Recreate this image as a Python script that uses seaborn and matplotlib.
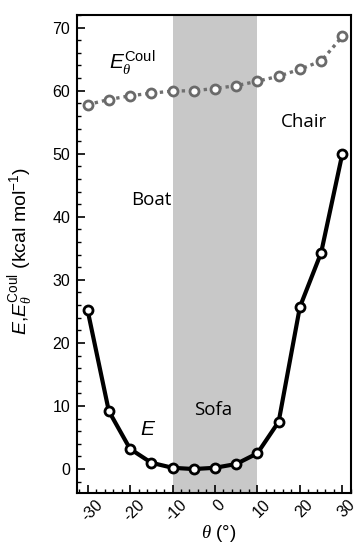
import matplotlib
matplotlib.use("Agg")
import matplotlib.pyplot as plt
import seaborn as sns
import pandas as pd
from matplotlib.ticker import MultipleLocator
from matplotlib.transforms import ScaledTranslation

theta = [-30, -25, -20, -15, -10, -5, 0, 5, 10, 15, 20, 25, 30]
E = [25.2, 9.2, 3.2, 1.0, 0.2, 0.0, 0.2, 0.8, 2.5, 7.5, 25.7, 34.3, 50.0]
E_coul = [57.8, 58.6, 59.2, 59.6, 59.95, 60.0, 60.35, 60.8, 61.5, 62.3, 63.4, 64.7, 68.6]
sofa_range = (-10, 10)
xticks = [-30, -20, -10, 0, 10, 20, 30]
yticks = [0, 10, 20, 30, 40, 50, 60, 70]

sns.set_theme(style="ticks")
plt.rcParams['font.family'] = ['Liberation Sans', 'DejaVu Sans']
plt.rcParams['mathtext.fontset'] = 'custom'
plt.rcParams['mathtext.it'] = 'Liberation Sans:italic'
plt.rcParams['mathtext.rm'] = 'Liberation Sans'
plt.rcParams['mathtext.cal'] = 'Liberation Serif:italic'
plt.rcParams['axes.unicode_minus'] = False
plt.rcParams['text.color'] = 'black'
plt.rcParams['axes.labelcolor'] = 'black'
plt.rcParams['xtick.color'] = 'black'
plt.rcParams['ytick.color'] = 'black'

df = pd.DataFrame({"theta": theta, "E": E, "Ecoul": E_coul})

fig = plt.figure(figsize=(3.58, 5.45), dpi=100)
ax = fig.add_axes([0.215, 0.0954, 0.765, 0.877])

ax.axvspan(sofa_range[0], sofa_range[1], color="#c8c8c8", lw=0, zorder=0)

sns.lineplot(data=df, x="theta", y="Ecoul", ax=ax, color="#707070", lw=2.4,
             linestyle=(0, (1, 1.2)), marker="o", markersize=6.5,
             markerfacecolor="white", markeredgecolor="#6a6a6a", markeredgewidth=2, zorder=3)
sns.lineplot(data=df, x="theta", y="E", ax=ax, color="black", lw=3,
             marker="o", markersize=6.5, markerfacecolor="white",
             markeredgecolor="black", markeredgewidth=2, zorder=4)

ax.set_xlim(-32.5, 32)
ax.set_ylim(-3.8, 72)
ax.set_xticks(xticks)
ax.set_yticks(yticks)
ax.xaxis.set_minor_locator(MultipleLocator(2))
ax.yaxis.set_minor_locator(MultipleLocator(2))
ax.tick_params(which="major", direction="in", length=6, width=1.2, labelsize=11.5)
ax.tick_params(which="minor", direction="in", length=3, width=1)
ax.tick_params(axis="x", pad=3)
ax.tick_params(axis="y", pad=5)
offset = ScaledTranslation(3 / 72, 0, fig.dpi_scale_trans)
for lbl in ax.get_xticklabels():
    lbl.set_rotation(45)
    lbl.set_ha("center")
    lbl.set_va("top")
    lbl.set_transform(lbl.get_transform() + offset)
for s in ax.spines.values():
    s.set_linewidth(1.5)
    s.set_color("black")

ax.set_xlabel(r"$\mathcal{\theta}$ (°)", fontsize=13.5)
ax.xaxis.set_label_coords(0.518, -0.062)
ax.set_ylabel(r"$E$,$E_\mathcal{\theta}^{\rm Coul}$ (kcal mol$^{-1}$)", fontsize=14)
ax.yaxis.set_label_coords(-0.155, 0.506)

ax.text(-25, 64.5, r"$E_\mathcal{\theta}^{\rm Coul}$", fontsize=15, ha="left", va="center")
ax.text(21, 55, "Chair", fontsize=13.5, ha="center", va="center", family=["Open Sans", "DejaVu Sans"])
ax.text(-15, 42.7, "Boat", fontsize=13.5, ha="center", va="center", family=["Open Sans", "DejaVu Sans"])
ax.text(-0.5, 9.4, "Sofa", fontsize=13.5, ha="center", va="center", family=["Open Sans", "DejaVu Sans"])
ax.text(-15.8, 6.2, r"$E$", fontsize=15, ha="center", va="center")

fig.savefig("out.png", dpi=100)
